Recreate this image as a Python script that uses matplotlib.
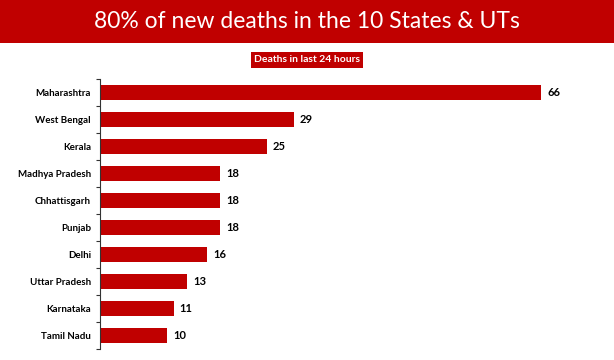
import matplotlib.pyplot as plt
from matplotlib.patches import Rectangle

states = ["Maharashtra", "West Bengal", "Kerala", "Madhya Pradesh", "Chhattisgarh",
          "Punjab", "Delhi", "Uttar Pradesh", "Karnataka", "Tamil Nadu"]
deaths = [66, 29, 25, 18, 18, 18, 16, 13, 11, 10]

title = "80% of new deaths in the 10 States & UTs"
subtitle = "Deaths in last 24 hours"

red = "#C00000"
W, H = 614, 360

plt.rcParams['font.family'] = ['Lato', 'DejaVu Sans']

fig = plt.figure(figsize=(W / 100, H / 100), dpi=100)

# title banner
fig.patches.append(Rectangle((0, 1 - 43 / H), 1, 43 / H, transform=fig.transFigure,
                             facecolor=red, edgecolor="none"))
fig.text(307 / W, 1 - 21 / H, title, color="white", fontsize=16.5,
         ha="center", va="center")
fig.text(307 / W, 1 - 60 / H, subtitle, color="white", fontsize=7.5, fontweight="bold",
         ha="center", va="center",
         bbox=dict(boxstyle="square,pad=0.3", facecolor=red, edgecolor="none"))

# bar chart: 0 at x=100px, 66 at x=541px
scale = (541 - 100) / 66
xmax = 75
ax = fig.add_axes([100 / W, 1 - 349 / H, xmax * scale / W, (349 - 79) / H])
y = list(range(len(states)))
ax.barh(y, deaths, height=0.58, color=red)
ax.set_ylim(len(states) - 0.5, -0.5)
ax.set_xlim(0, xmax)
ax.set_yticks([i - 0.5 for i in range(len(states) + 1)])
ax.set_yticklabels([])
ax.set_yticks(y, minor=True)
ax.set_yticklabels(states, minor=True, fontsize=7, fontweight="bold")
ax.tick_params(axis="y", which="minor", length=0, pad=6.5)
ax.tick_params(axis="y", which="major", length=3, width=0.8, color="#333333")
ax.set_xticks([])
for s in ["top", "right", "bottom"]:
    ax.spines[s].set_visible(False)
ax.spines["left"].set_color("#333333")
ax.spines["left"].set_linewidth(0.8)

for i, v in enumerate(deaths):
    ax.text(v + 0.9, i, str(v), va="center", ha="left", fontsize=8, fontweight="bold")

fig.savefig("out.png", dpi=100)
